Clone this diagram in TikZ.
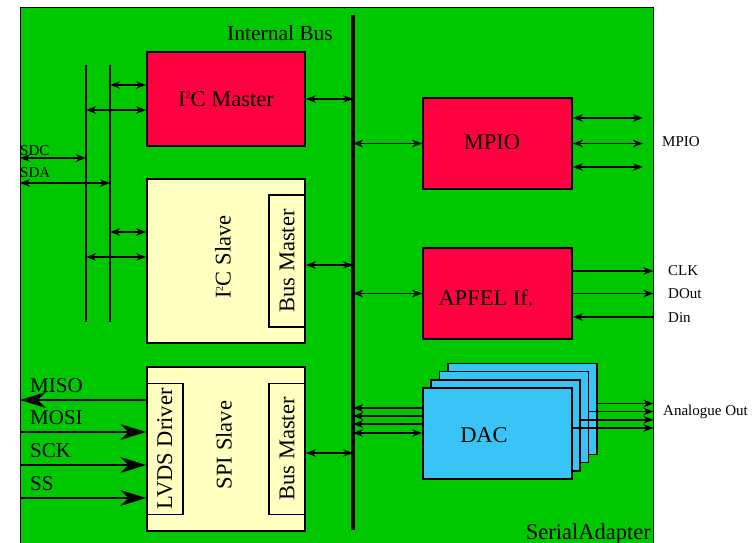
\documentclass[tikz,border=0pt]{standalone}
\usepackage{fontspec}
\setmainfont{Liberation Serif}
\usetikzlibrary{positioning,arrows.meta,calc}
\definecolor{boardgreen}{HTML}{00C800}
\definecolor{blockred}{HTML}{FF0040}
\definecolor{slavecream}{HTML}{FFFFBF}
\definecolor{dacblue}{HTML}{38C4F4}
\newcommand{\twosup}{\raisebox{0.75ex}{\fontsize{10}{10}\selectfont 2}}
\tikzset{
  board/.style  ={draw=black, thick, fill=boardgreen, minimum width=633pt, minimum height=536pt, inner sep=0pt},
  redblk/.style ={draw=black, line width=1.8pt, fill=blockred, minimum width=149pt, minimum height=91pt, inner sep=0pt},
  slaveblk/.style={draw=black, line width=1.8pt, fill=slavecream, minimum width=158pt, minimum height=164pt, inner sep=0pt},
  subblk/.style ={draw=black, line width=1.6pt, fill=slavecream, minimum width=36pt, minimum height=131pt, inner sep=0pt},
  dacblk/.style ={draw=black, line width=1.8pt, fill=dacblue, minimum width=149pt, minimum height=91pt, inner sep=0pt},
  boxtxt/.style ={font=\fontsize{22.5}{24}\selectfont, inner sep=0pt},
  vtxt/.style   ={boxtxt, rotate=90},
  sig/.style    ={font=\fontsize{15}{17}\selectfont, inner sep=0pt},
  bigsig/.style ={font=\fontsize{21}{23}\selectfont, inner sep=0pt},
  bidir/.style  ={{Stealth[length=10pt,width=7.5pt]}-{Stealth[length=10pt,width=7.5pt]}, line width=1.8pt},
  outarr/.style ={-{Stealth[length=10pt,width=7.5pt]}, line width=1.8pt},
  inarr/.style  ={{Stealth[length=10pt,width=7.5pt]}-, line width=1.8pt},
  spiin/.style  ={-{Stealth[length=26pt,width=16pt]}, line width=1.8pt},
  bus/.style    ={line width=3.2pt},
  rail/.style   ={line width=1.8pt},
}
\begin{document}
\begin{tikzpicture}[x=1pt,y=-1pt]
  \useasboundingbox (0,0) rectangle (756,543);
  \node[board] (SA) at (336.5,275) {};
  \node[boxtxt, anchor=base east] (SAlbl) at (651,539) {SerialAdapter};

  % internal bus
  \coordinate (bustop) at (353,15);
  \coordinate (busbot) at (353,530);
  \draw[bus] (bustop) -- (busbot);
  \node[font=\fontsize{21.5}{23}\selectfont, inner sep=0pt] (buslbl) at (280,33) {Internal Bus};

  % I2C rails
  \coordinate (r1t) at (86,65);
  \coordinate (r1b) at (86,322);
  \coordinate (r2t) at (110,65);
  \coordinate (r2b) at (110,322);
  \draw[rail] (r1t) -- (r1b);
  \draw[rail] (r2t) -- (r2b);
  \coordinate (sdc) at (20,158);
  \coordinate (sda) at (20,183);
  \draw[bidir] (sdc) -- (sdc -| r1t);
  \draw[bidir] (sda) -- (sda -| r2t);
  \node[sig, anchor=base west] (sdclbl) at (20,155) {SDC};
  \node[sig, anchor=base west] (sdalbl) at (20,178) {SDA};

  % I2C master
  \node[redblk, boxtxt, minimum width=158pt, minimum height=94pt] (IM) at (226,99) {I\twosup C Master};
  \draw[bidir] ([yshift=14pt]IM.west -| r2t) -- ([yshift=14pt]IM.west);
  \draw[bidir] ([yshift=-11pt]IM.west -| r1t) -- ([yshift=-11pt]IM.west);
  \draw[bidir] (IM.east) -- (IM.east -| bustop);

  % I2C slave
  \node[slaveblk] (IS) at (226,261) {};
  \node[subblk, minimum height=132pt, anchor=east] (ISbm) at (IS.east) {};
  \node[vtxt] (ISlbl) at (223,257) {I\twosup C Slave};
  \node[vtxt] (ISbmlbl) at (ISbm) {Bus Master};
  \draw[bidir] ([yshift=29pt]IS.west -| r2t) -- ([yshift=29pt]IS.west);
  \draw[bidir] ([yshift=4pt]IS.west -| r1t) -- ([yshift=4pt]IS.west);
  \draw[bidir] ([yshift=-4pt]ISbm.east) -- ([yshift=-4pt]ISbm.east -| bustop);

  % SPI slave
  \node[slaveblk] (SPI) at (226,449) {};
  \node[subblk, anchor=west] (LVDS) at (SPI.west) {};
  \node[subblk, anchor=east] (SPIbm) at (SPI.east) {};
  \node[vtxt] (SPIlbl) at (224,445) {SPI Slave};
  \node[vtxt] (LVDSlbl) at (LVDS) {LVDS Driver};
  \node[vtxt] (SPIbmlbl) at (SPIbm) {Bus Master};
  \draw[bidir] ([yshift=-4pt]SPIbm.east) -- ([yshift=-4pt]SPIbm.east -| bustop);
  \coordinate (miso) at (20,400);
  \coordinate (mosi) at (20,432);
  \coordinate (sck) at (20,465);
  \coordinate (ss) at (20,498);
  \draw[spiin] (miso -| LVDS.west) -- (miso);
  \foreach \s in {mosi,sck,ss}
    \draw[spiin] (\s) -- (\s -| LVDS.west);
  \foreach \s/\t in {miso/MISO,mosi/MOSI,sck/SCK,ss/SS}
    \node[bigsig, anchor=base west] (\s lbl) at ([shift={(10,-7.5)}]\s) {\t};

  % MPIO
  \node[redblk] (MP) at (497.5,143.5) {};
  \node[boxtxt] (MPlbl) at (492,142) {MPIO};
  \coordinate (mpend) at (643,142);
  \draw[bidir] (MP.west -| bustop) -- (MP.west);
  \foreach \d in {25.5,0,-23.5}
    \draw[bidir] ([yshift=\d pt]MP.east) -- ([yshift=\d pt]MP.east -| mpend);
  \node[sig, anchor=west] (mpout) at (662,142) {MPIO};

  % APFEL interface
  \node[redblk] (AP) at (497.5,293.5) {};
  \node[boxtxt] (APlbl) at (486,298) {APFEL If.};
  \draw[bidir] (AP.west -| bustop) -- (AP.west);
  \draw[outarr] ([yshift=22.5pt]AP.east) -- ([yshift=22.5pt]AP.east -| SA.east);
  \draw[outarr] (AP.east) -- (AP.east -| SA.east);
  \draw[inarr] ([yshift=-23.5pt]AP.east) -- ([yshift=-23.5pt]AP.east -| SA.east);
  \node[sig, anchor=west] (clk) at (668,271) {CLK};
  \node[sig, anchor=west] (dout) at (668,294) {DOut};
  \node[sig, anchor=west] (din) at (668,318) {Din};

  % DAC stack
  \foreach \n/\px/\py in {1/522.5/409,2/514/417,3/505.8/425.3,4/497.5/433.5}
    \node[dacblk] (D\n) at (\px,\py) {};
  \node[boxtxt] (DAClbl) at (484,435) {DAC};
  \foreach \d in {25.5,17.5,9.5}
    \draw[inarr] ([yshift=\d pt]D4.west -| bustop) -- ([yshift=\d pt]D4.west);
  \draw[bidir] ([yshift=0.5pt]D4.west -| bustop) -- ([yshift=0.5pt]D4.west);
  \foreach \n in {1,...,4}
    \draw[outarr] ([yshift=5.5pt]D\n.east) -- ([yshift=5.5pt]D\n.east -| SA.east);
  \node[sig, anchor=west] (anaout) at (663,412) {Analogue Out};
\end{tikzpicture}
\end{document}
